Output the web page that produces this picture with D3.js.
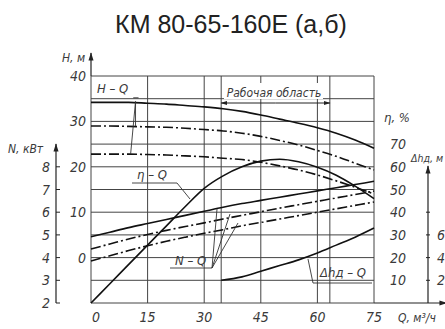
<!DOCTYPE html>
<html>
<head>
<meta charset="utf-8">
<script src="https://cdn.jsdelivr.net/npm/d3@7"></script>
<style>
  body { margin: 0; background: #fff; }
  svg { display: block; }
  .lbl { font-family: "DejaVu Sans", sans-serif; font-style: italic; font-stretch: condensed; fill: #3a3a3a; }
</style>
</head>
<body>
<svg width="445" height="329"></svg>
<script>
// pump curves
var Q = [0, 5, 10, 15, 20, 25, 30, 35, 40, 45, 50, 55, 60, 65, 70, 75];
var H_FULL = [34.2, 34.2, 34.2, 34.0, 33.8, 33.5, 33.2, 32.8, 32.2, 31.4, 30.5, 29.6, 28.6, 27.4, 25.9, 24.1];
var H_A = [29.0, 29.0, 28.9, 28.8, 28.7, 28.5, 28.2, 27.9, 27.4, 26.7, 25.8, 24.8, 23.6, 22.3, 20.8, 19.3];
var H_B = [22.8, 22.8, 22.8, 22.7, 22.6, 22.4, 22.2, 21.9, 21.6, 21.0, 20.2, 19.3, 18.2, 16.9, 15.5, 14.0];
var ETA = [0, 8.5, 17, 25.5, 34, 42.5, 50.5, 56, 60, 62.5, 63.3, 62.2, 59.8, 56.3, 51.5, 46];
var N_FULL = [4.92, 5.12, 5.32, 5.5, 5.68, 5.86, 6.04, 6.22, 6.38, 6.52, 6.66, 6.8, 6.94, 7.08, 7.22, 7.36];
var N_A = [4.38, 4.6, 4.82, 5.02, 5.2, 5.37, 5.53, 5.7, 5.86, 6.02, 6.18, 6.33, 6.48, 6.63, 6.78, 6.93];
var N_B = [3.85, 4.08, 4.31, 4.52, 4.72, 4.9, 5.07, 5.23, 5.4, 5.55, 5.7, 5.85, 6.0, 6.15, 6.3, 6.45];
var DH_Q = [34.5, 40, 45, 50, 55, 60, 65, 70, 75];
var DH = [2.0, 2.3, 2.8, 3.3, 3.8, 4.4, 5.1, 5.8, 6.6];

var Q_TICKS = [0, 15, 30, 45, 60, 75];
var Q_GRID = [0, 15, 30, 34.5, 45, 60, 63.3, 75];
var WORK = [34.5, 63.3];
var H_TICKS = [0, 10, 20, 30, 40];
var N_TICKS = [2, 3, 4, 5, 6, 7, 8];
var ETA_TICKS = [10, 20, 30, 40, 50, 60, 70];
var DH_TICKS = [2, 4, 6];

var svg = d3.select('svg');
var x = d3.scaleLinear().domain([0, 75]).range([91, 374]);
var yH = d3.scaleLinear().domain([-10, 40]).range([303, 76]);
var yEta = d3.scaleLinear().domain([0, 100]).range([303, 76]);
var yN = d3.scaleLinear().domain([2, 12]).range([303, 76]);
var yDh = d3.scaleLinear().domain([0, 20]).range([303, 76]);

// arrow marker
svg.append('defs').append('marker')
  .attr('id', 'arr').attr('viewBox', '0 0 10 10')
  .attr('refX', 9).attr('refY', 5)
  .attr('markerWidth', 7).attr('markerHeight', 7)
  .attr('orient', 'auto-start-reverse')
  .append('path').attr('d', 'M0,2 L10,5 L0,8 Z').attr('fill', '#222');

// title
svg.append('text')
  .attr('x', 231).attr('y', 33)
  .attr('text-anchor', 'middle')
  .style('font-family', '"Liberation Sans", Arial, sans-serif')
  .style('font-size', '25px')
  .style('fill', '#222')
  .text('КМ 80-65-160Е (а,б)');

// grid
var grid = svg.append('g').attr('stroke', '#444').attr('stroke-width', 1);
d3.range(-10, 41, 5).forEach(function (h) {
  grid.append('line')
    .attr('x1', x(0)).attr('x2', x(75))
    .attr('y1', yH(h)).attr('y2', yH(h));
});
Q_GRID.forEach(function (q) {
  grid.append('line')
    .attr('x1', x(q)).attr('x2', x(q))
    .attr('y1', yH(40)).attr('y2', yH(-10));
});

// H axis arrow, Q axis arrow
svg.append('line')
  .attr('x1', x(0)).attr('x2', x(0))
  .attr('y1', yH(40)).attr('y2', 53)
  .attr('stroke', '#222').attr('stroke-width', 1.2)
  .attr('marker-end', 'url(#arr)');
svg.append('line')
  .attr('x1', x(75)).attr('x2', 447)
  .attr('y1', yH(-10)).attr('y2', yH(-10))
  .attr('stroke', '#222').attr('stroke-width', 1.2)
  .attr('marker-end', 'url(#arr)');

// N axis
var nAxis = svg.append('g');
nAxis.append('line')
  .attr('x1', 56).attr('x2', 56)
  .attr('y1', yN(2)).attr('y2', 144)
  .attr('stroke', '#222').attr('stroke-width', 1.2)
  .attr('marker-end', 'url(#arr)');
N_TICKS.forEach(function (n) {
  nAxis.append('line')
    .attr('x1', 56).attr('x2', 60)
    .attr('y1', yN(n)).attr('y2', yN(n))
    .attr('stroke', '#222');
  nAxis.append('text').attr('class', 'lbl')
    .attr('x', 50).attr('y', yN(n) + 5)
    .attr('text-anchor', 'end')
    .style('font-size', '14px')
    .text(n);
});
svg.append('text').attr('class', 'lbl')
  .attr('x', 8).attr('y', 153)
  .style('font-size', '12px')
  .text('N, кВт');

// Δh axis
var dAxis = svg.append('g');
dAxis.append('line')
  .attr('x1', 428).attr('x2', 428)
  .attr('y1', yDh(0)).attr('y2', 166)
  .attr('stroke', '#222').attr('stroke-width', 1.2)
  .attr('marker-end', 'url(#arr)');
[2, 4, 6, 8].forEach(function (d) {
  dAxis.append('line')
    .attr('x1', 426).attr('x2', 430)
    .attr('y1', yDh(d)).attr('y2', yDh(d))
    .attr('stroke', '#222');
});
DH_TICKS.forEach(function (d) {
  dAxis.append('text').attr('class', 'lbl')
    .attr('x', 437).attr('y', yDh(d) + 5)
    .style('font-size', '14px')
    .text(d);
});
svg.append('text').attr('class', 'lbl')
  .attr('x', 411).attr('y', 162)
  .style('font-size', '10.5px')
  .text('Δhд, м');

// H labels
H_TICKS.forEach(function (h) {
  svg.append('text').attr('class', 'lbl')
    .attr('x', 86).attr('y', yH(h) + 5)
    .attr('text-anchor', 'end')
    .style('font-size', '14px')
    .text(h);
});
svg.append('text').attr('class', 'lbl')
  .attr('x', 62).attr('y', 62)
  .style('font-size', '12px')
  .text('H, м');

// eta labels
ETA_TICKS.forEach(function (e) {
  svg.append('text').attr('class', 'lbl')
    .attr('x', 398).attr('y', yEta(e) + 5)
    .attr('text-anchor', 'middle')
    .style('font-size', '14px')
    .text(e);
});
svg.append('text').attr('class', 'lbl')
  .attr('x', 384).attr('y', 122)
  .style('font-size', '13px')
  .text('η, %');

// Q labels
Q_TICKS.forEach(function (q) {
  svg.append('text').attr('class', 'lbl')
    .attr('x', q === 0 ? x(q) + 5 : x(q)).attr('y', 322)
    .attr('text-anchor', 'middle')
    .style('font-size', '14px')
    .text(q);
});
svg.append('text').attr('class', 'lbl')
  .attr('x', 398).attr('y', 322)
  .style('font-size', '12px')
  .text('Q, м³/ч');

// curves
function draw(qs, vs, y, dashed) {
  var line = d3.line()
    .x(function (d, i) { return x(qs[i]); })
    .y(function (d) { return y(d); })
    .curve(d3.curveMonotoneX);
  svg.append('path')
    .attr('d', line(vs))
    .attr('fill', 'none')
    .attr('stroke', '#111')
    .attr('stroke-width', 1.6)
    .attr('stroke-dasharray', dashed ? '10,3,2,3' : null);
}
draw(Q, H_FULL, yH, false);
draw(Q, H_A, yH, true);
draw(Q, H_B, yH, true);
draw(Q, ETA, yEta, false);
draw(Q, N_FULL, yN, false);
draw(Q, N_A, yN, true);
draw(Q, N_B, yN, true);
draw(DH_Q, DH, yDh, false);

// leaders
var lead = svg.append('g').attr('stroke', '#333').attr('stroke-width', 0.9).attr('fill', 'none');
function seg(x1, y1, x2, y2) {
  lead.append('line').attr('x1', x1).attr('y1', y1).attr('x2', x2).attr('y2', y2);
}
// H-Q
seg(x(11.8), yH(34.4), x(11.8), yH(29.0));
seg(x(11.8), yH(34.4), x(10.5), yH(22.8));
seg(x(11.2), yH(35.2), x(12.6), yH(35.2));
// eta-Q
seg(132, 183, 177, 183);
seg(177, 183, 190, 199);
// N-Q
seg(170, 268, 212, 268);
seg(212, 268, 217, 209);
seg(212, 268, 230, 214);
seg(212, 268, 238, 223);
// dh-Q
seg(313, 283, 372, 283);
seg(313, 283, 308, 259);

// working area
svg.append('rect')
  .attr('x', 224).attr('y', 83)
  .attr('width', 99).attr('height', 16)
  .attr('fill', '#fff');
svg.append('line')
  .attr('x1', x((WORK[0] + WORK[1]) / 2)).attr('x2', x(WORK[0]))
  .attr('y1', 103).attr('y2', 103)
  .attr('stroke', '#222').attr('stroke-width', 1)
  .attr('marker-end', 'url(#arr)');
svg.append('line')
  .attr('x1', x((WORK[0] + WORK[1]) / 2)).attr('x2', x(WORK[1]))
  .attr('y1', 103).attr('y2', 103)
  .attr('stroke', '#222').attr('stroke-width', 1)
  .attr('marker-end', 'url(#arr)');
svg.append('text').attr('class', 'lbl')
  .attr('x', 274).attr('y', 97)
  .attr('text-anchor', 'middle')
  .style('font-size', '12px')
  .text('Рабочая область');

// curve names
function name(t, px, py) {
  svg.append('text').attr('class', 'lbl')
    .attr('x', px).attr('y', py)
    .style('font-size', '13px')
    .text(t);
}
name('H – Q', 97, 93);
name('η – Q', 137, 179);
name('N – Q', 175, 265);
name('Δhд – Q', 320, 277);
</script>
</body>
</html>
